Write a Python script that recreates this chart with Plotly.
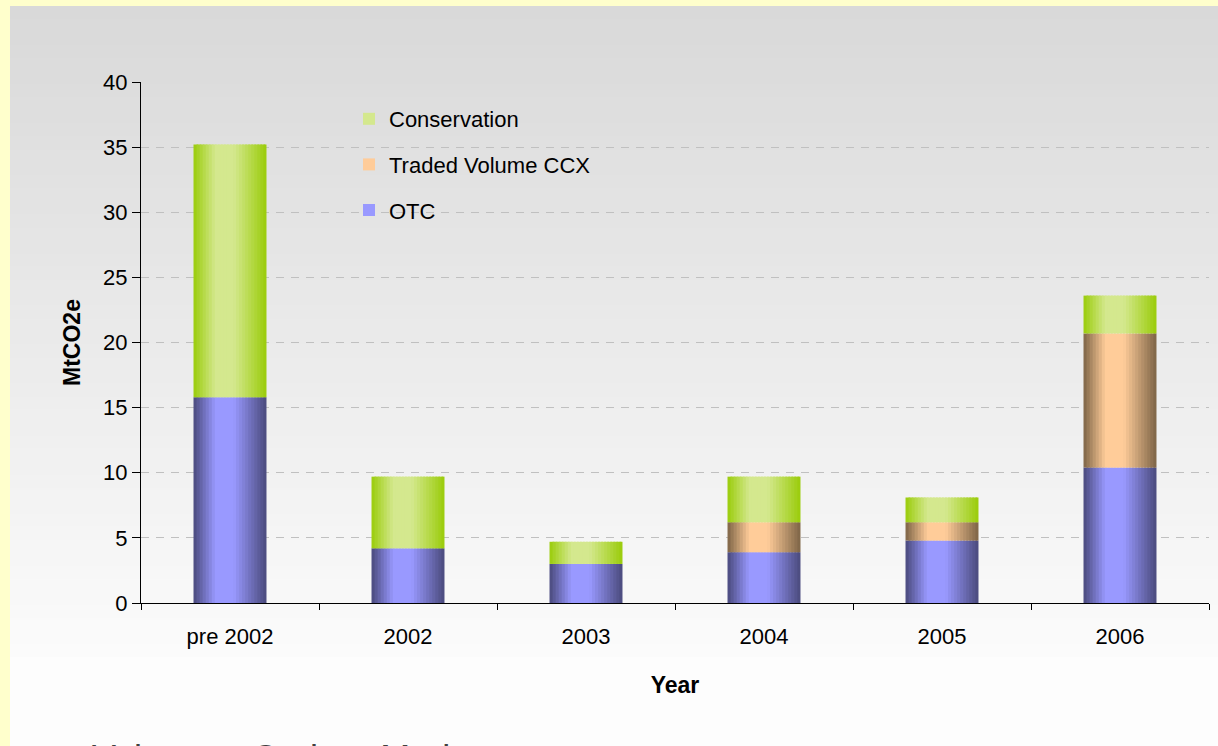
import plotly.graph_objects as go

categories = ["pre 2002", "2002", "2003", "2004", "2005", "2006"]
otc = [15.8, 4.2, 3.0, 3.9, 4.8, 10.4]
ccx = [0.0, 0.0, 0.0, 2.3, 1.4, 10.3]
conservation = [19.4, 5.5, 1.7, 3.5, 1.9, 2.9]

series_names = ["OTC", "Traded Volume CCX", "Conservation"]
series_values = [otc, ccx, conservation]
center_colors = [(153, 153, 255), (255, 204, 153), (212, 232, 142)]
edge_colors = [(74, 74, 124), (125, 100, 70), (154, 204, 10)]
legend_ranks = [3, 2, 1]

W_PX, H_PX = 1218, 746
ML, MR, MT, MB = 141, 9, 82, 143
PW = W_PX - ML - MR
PH = H_PX - MT - MB


def px_x(p):
    return (p - ML) / PW


def px_y(p):
    return (H_PX - MB - p) / PH


def mix(c1, c2, s):
    return "rgb(%d,%d,%d)" % tuple(round(a + (b - a) * s) for a, b in zip(c1, c2))


def shade(t):
    if t < 0.3:
        return t / 0.3
    if t < 0.55:
        return 1.0
    return (1 - t) / 0.45


fig = go.Figure()

bar_w = 0.41
N = 24
sw = bar_w / N
bases = [0.0] * len(categories)
for si, (name, vals) in enumerate(zip(series_names, series_values)):
    base = list(bases)
    for i in range(N):
        t = (i + 0.5) / N
        col = mix(edge_colors[si], center_colors[si], max(0.0, min(1.0, shade(t))))
        off = -bar_w / 2 + i * sw
        width = min(sw * 1.6, bar_w / 2 - off)
        fig.add_trace(go.Bar(
            x=categories, y=vals, base=base,
            width=[width] * len(categories), offset=[off] * len(categories),
            marker=dict(color=col, line=dict(width=0)),
            name=name, legendgroup=name, legendrank=legend_ranks[si],
            showlegend=(i == N // 2 - 2), hoverinfo="skip",
        ))
    bases = [b + v for b, v in zip(bases, vals)]

shapes = []
# gray gradient panel
top_py, bot_py = 6, 657
nb = 50
for k in range(nb):
    y0p = top_py + (bot_py - top_py) * k / nb
    y1p = top_py + (bot_py - top_py) * (k + 1) / nb + 1
    g = 217 + (252 - 217) * (k + 0.5) / nb
    shapes.append(dict(type="rect", xref="paper", yref="paper", layer="below",
                       x0=px_x(10), x1=px_x(1230), y0=px_y(y1p), y1=px_y(y0p),
                       fillcolor="rgb(%d,%d,%d)" % (g, g, g), line=dict(width=0)))
shapes.append(dict(type="rect", xref="paper", yref="paper", layer="below",
                   x0=px_x(10), x1=px_x(1230), y0=px_y(760), y1=px_y(bot_py),
                   fillcolor="rgb(253,253,253)", line=dict(width=0)))

font = "Liberation Sans, Arial, sans-serif"

fig.update_layout(
    width=W_PX, height=H_PX,
    margin=dict(l=ML, r=MR, t=MT, b=MB, autoexpand=False),
    paper_bgcolor="#FFFFCC",
    plot_bgcolor="rgba(0,0,0,0)",
    barmode="overlay",
    shapes=shapes,
    font=dict(family=font, color="black"),
    showlegend=True,
    legend=dict(x=px_x(349), y=px_y(98), xanchor="left", yanchor="top",
                bgcolor="rgba(0,0,0,0)", font=dict(size=22, family=font),
                tracegroupgap=14, itemwidth=30),
    xaxis=dict(
        type="category", categoryorder="array", categoryarray=categories,
        range=[-0.5, 5.5], tickson="boundaries", ticks="outside", ticklen=6,
        tickcolor="black", showline=True, linecolor="black", linewidth=1,
        showgrid=False, tickfont=dict(size=22), ticklabelstandoff=14,
        title=dict(text="<b>Year</b>", font=dict(size=23), standoff=28),
    ),
    yaxis=dict(
        range=[0, 40], dtick=5, ticks="outside", ticklen=8, tickcolor="black",
        showline=True, linecolor="black", linewidth=1, zeroline=False,
        showgrid=True, gridcolor="#C0C0C0", griddash="8px,7px", gridwidth=1,
        tickfont=dict(size=22),
        title=dict(text="<b>MtCO2e</b>", font=dict(size=23), standoff=16),
    ),
    annotations=[
        dict(text="Voluntary Carbon Market", xref="paper", yref="paper",
             x=px_x(90), y=px_y(758), xanchor="left", yanchor="middle",
             showarrow=False, font=dict(size=36, color="#404040", family=font)),
    ],
)

fig.write_html("out.html", config={"displayModeBar": False},
               post_script="document.body.style.margin='0';document.body.style.overflow='hidden';")
